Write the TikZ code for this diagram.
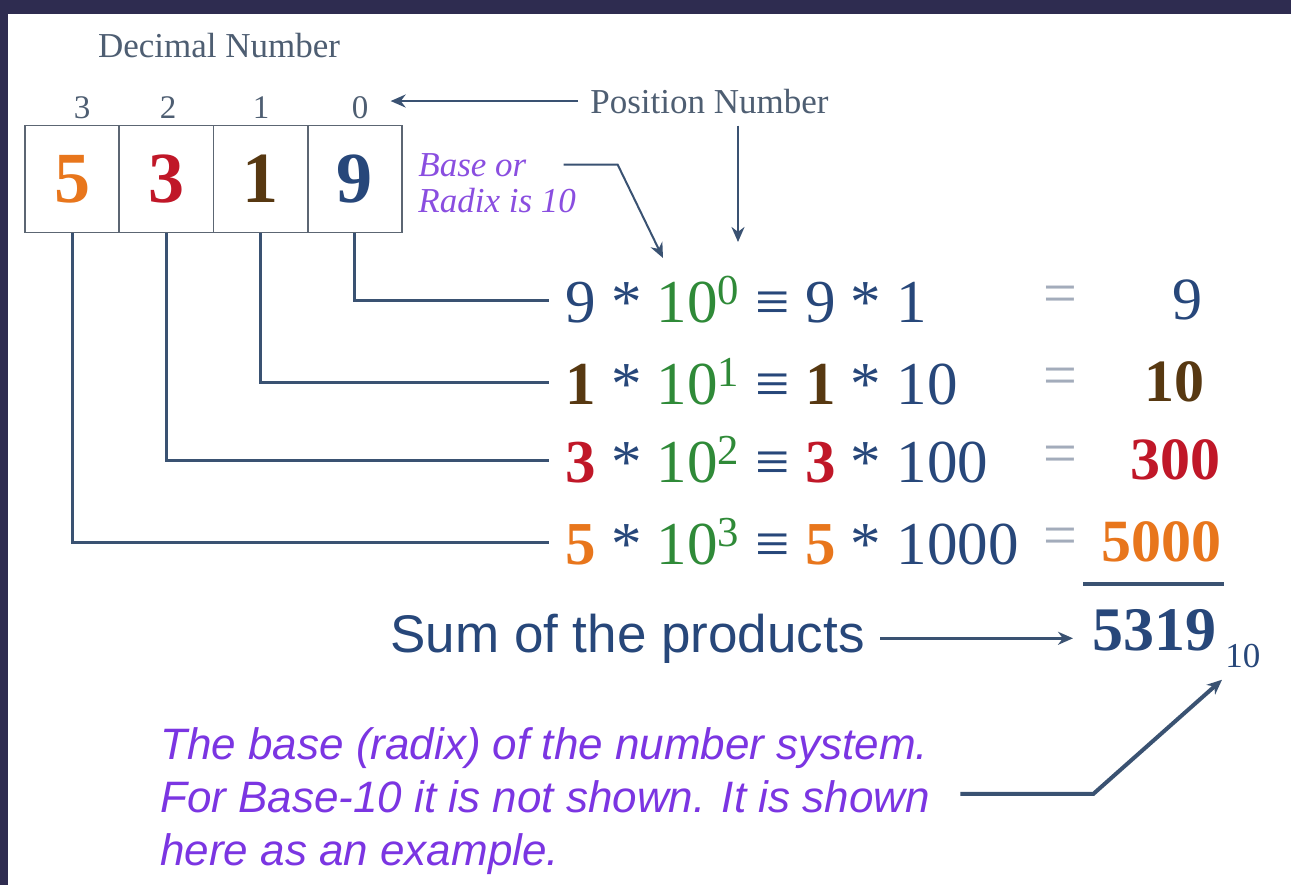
\documentclass[tikz,border=0pt]{standalone}
\usepackage{fontspec}
\setmainfont{Liberation Serif}
\newfontfamily\notefont{Liberation Sans}
\usetikzlibrary{arrows.meta,positioning,calc}
\usepackage{xcolor}

\definecolor{frameC}{HTML}{2E2C50}
\definecolor{lineC}{HTML}{3A5272}
\definecolor{boxC}{HTML}{5C6673}
\definecolor{navyC}{HTML}{27477A}
\definecolor{grayC}{HTML}{4E5E72}
\definecolor{orangeC}{HTML}{E8761C}
\definecolor{redC}{HTML}{C01728}
\definecolor{brownC}{HTML}{573811}
\definecolor{greenC}{HTML}{2F8A38}
\definecolor{purpleC}{HTML}{7B35E2}
\definecolor{violetC}{HTML}{8A4EE0}
\definecolor{eqC}{HTML}{A3ACBB}

\newcommand{\pw}[1]{\textcolor{greenC}{10\textsuperscript{#1}}}
\newcommand{\bd}[2]{\textcolor{#1}{\bfseries #2}}

\begin{document}
\begin{tikzpicture}[x=0.5pt,y=-0.5pt,
  cell/.style={draw=boxC, line width=0.8pt, minimum width=47.125pt, minimum height=53.5pt,
    inner sep=0pt, font=\fontsize{36}{36}\selectfont\bfseries},
  posdig/.style={inner sep=0pt, anchor=base, text=grayC, font=\fontsize{16.5}{18}\selectfont},
  toplbl/.style={inner sep=0pt, text=grayC, font=\fontsize{17.5}{20}\selectfont},
  basetext/.style={inner sep=0pt, anchor=base west, text=violetC, font=\fontsize{17.5}{20}\selectfont\itshape},
  term/.style={anchor=west, inner xsep=8pt, inner ysep=0pt, text=navyC, font=\fontsize{30.5}{34}\selectfont},
  eqsign/.style={inner sep=0pt, text=eqC, font=\fontsize{30}{34}\selectfont},
  val/.style={anchor=east, inner sep=0pt, text=navyC, font=\fontsize{30}{34}\selectfont},
  link/.style={draw=lineC, line width=1.5pt},
  pointer/.style={draw=lineC, line width=1.2pt, -{Stealth[length=7.5pt,width=6.5pt]}}]

  \useasboundingbox (0,0) rectangle (1291,885);
  \fill[white] (0,0) rectangle (1291,885);
  \fill[frameC] (0,0) rectangle (1291,14);
  \fill[frameC] (0,0) rectangle (8,885);

  % the number in its cells
  \foreach \d/\c/\i in {5/orangeC/0,3/redC/1,1/brownC/2,9/navyC/3}
    \node[cell, text=\c] (cell\i) at ({72.125+94.25*\i},179) {\d};

  % position numbers
  \foreach \p/\x in {3/82,2/168,1/261,0/360}
    \node[posdig] (pos\p) at (\x,118) {\p};
  \node[toplbl, anchor=base] (decLbl) at (219,57) {Decimal Number};
  \node[toplbl, anchor=base west] (posNum) at (590,113) {Position Number};
  \draw[pointer, shorten <=6pt, shorten >=11pt] (posNum.west) -- (pos0.east |- posNum.west);
  \coordinate (posTip) at (738,242);
  \draw[pointer] ([yshift=-6pt]posNum.south -| posTip) -- (posTip);

  % base or radix
  \node[basetext] (baseA) at (418,176) {Base or};
  \node[basetext] (baseB) at (418,212) {Radix is 10};
  \coordinate (radixTip) at (663,258);
  \draw[pointer, line width=1pt] ([xshift=18.5pt]baseA.east) -- ++(54,0) -- (radixTip);

  % products
  \node[term] (term0) at (549,300) {9 * \pw{0} ≡ 9 * 1};
  \node[term] (term1) at (549,382) {\bd{brownC}{1} * \pw{1} ≡ \bd{brownC}{1} * 10};
  \node[term] (term2) at (549,460) {\bd{redC}{3} * \pw{2} ≡ \bd{redC}{3} * 100};
  \node[term] (term3) at (549,542) {\bd{orangeC}{5} * \pw{3} ≡ \bd{orangeC}{5} * 1000};
  \foreach \r/\y in {0/300,1/382,2/460,3/542}
    \node[eqsign] (eq\r) at (1060,\y) {=};
  \node[val] (val0) at (1203,300) {9};
  \node[val] (val1) at (1205,382) {\bd{brownC}{10}};
  \node[val] (val2) at (1221,460) {\bd{redC}{300}};
  \node[val] (val3) at (1222,542) {\bd{orangeC}{5000}};

  % cells to rows
  \foreach \i/\r in {3/0,2/1,1/2,0/3}
    \draw[link] (cell\i.south) |- (term\r.west);

  % sum
  \draw[draw=lineC, line width=2pt] ([shift={(-9pt,-10.5pt)}]val3.south west) -- ([shift={(1pt,-10.5pt)}]val3.south east);
  \node[inner sep=0pt, anchor=base west, text=navyC, font=\fontsize{31}{34}\selectfont\bfseries] (total) at (1092,650) {5319};
  \node[inner sep=0pt, anchor=base west, text=navyC, font=\fontsize{17.5}{20}\selectfont] (base10) at (1225,667) {10};
  \node[inner sep=0pt, anchor=base west, text=navyC, font=\notefont\fontsize{26.5}{30}\selectfont] (sumLbl) at (390,652) {Sum of the products};
  \draw[pointer, shorten <=7.5pt, shorten >=9.5pt] (sumLbl.east) -- (total.west |- sumLbl.east);

  % note on the base
  \node[inner sep=0pt, anchor=north west, align=left, text=purpleC,
    font=\notefont\itshape\fontsize{22}{26.5}\selectfont] (note) at (160,727)
    {The base (radix) of the number system.\\For Base-10 it is not shown. It is shown\\here as an example.};
  \draw[pointer, line width=2pt] ([shift={(15pt,3.5pt)}]note.east) -- ++(133,0) -- ([shift={(-1.5pt,-6pt)}]base10.south west);
\end{tikzpicture}
\end{document}
